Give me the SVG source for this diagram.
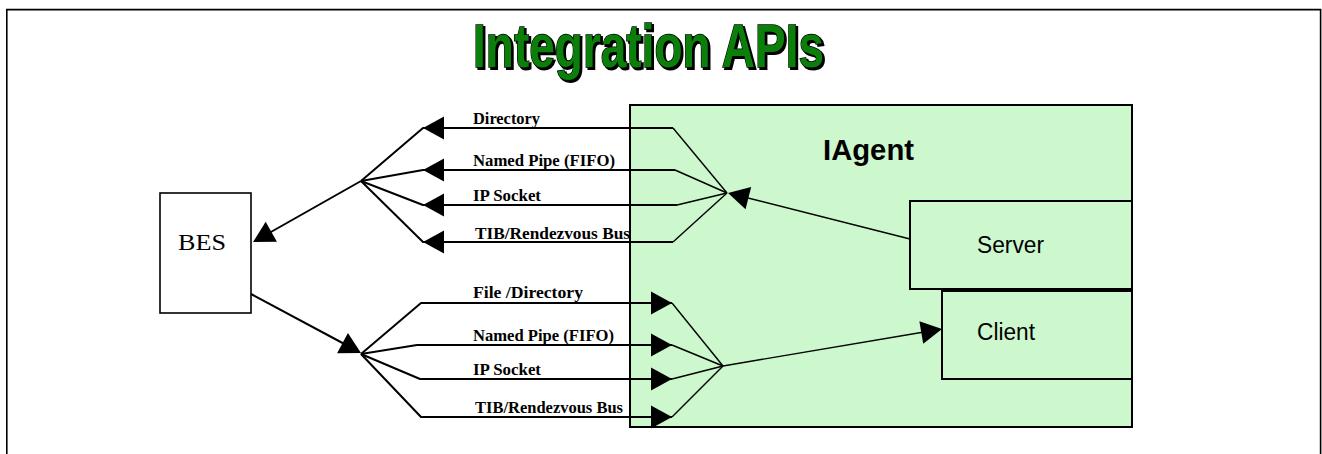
<svg xmlns="http://www.w3.org/2000/svg" width="1322" height="454" viewBox="0 0 1322 454">
<style>
.frame{fill:none;stroke:#000;stroke-width:1.6}
.box{fill:#cdf7cd;stroke:#000;stroke-width:2}
.bes{fill:#fff;stroke:#000;stroke-width:1.6}
.ln{fill:none;stroke:#000;stroke-width:2;stroke-linejoin:round}
.thin{fill:none;stroke:#000;stroke-width:1.4;stroke-linejoin:round}
.lbl{font-family:"Liberation Serif","Times New Roman",serif;font-weight:bold;font-size:16px;fill:#000}
.sans{font-family:"Liberation Sans",Arial,sans-serif;fill:#000}
.title{font-family:"Liberation Sans",Arial,sans-serif;font-weight:bold;font-size:62px}
</style>
<defs>
<path id="ah" d="M0,0 L-21,-11.5 L-21,11.5 Z" fill="#000"/>
</defs>
<rect width="1322" height="454" fill="#fff"/>
<path class="frame" d="M6.8,454 V9.6 H1320.6 V454"/>
<g id="title">
<text class="title" x="475" y="69" textLength="351" lengthAdjust="spacingAndGlyphs" fill="#000" stroke="#000" stroke-width="2">Integration APIs</text>
<text class="title" x="473" y="67" textLength="351" lengthAdjust="spacingAndGlyphs" fill="#0a800a" stroke="#000" stroke-width="1.6" paint-order="stroke">Integration APIs</text>
</g>
<g id="iagent">
<rect class="box" x="630" y="105" width="502" height="322"/>
<text class="sans" x="823" y="160" font-size="30" font-weight="bold" textLength="91" lengthAdjust="spacingAndGlyphs">IAgent</text>
</g>
<g id="server">
<rect class="box" x="910" y="201" width="222" height="88"/>
<text class="sans" x="977" y="253" font-size="23" textLength="67" lengthAdjust="spacingAndGlyphs">Server</text>
</g>
<g id="client">
<rect class="box" x="942" y="291" width="190" height="88"/>
<text class="sans" x="977" y="340" font-size="23" textLength="58" lengthAdjust="spacingAndGlyphs">Client</text>
</g>
<g id="bes">
<rect class="bes" x="160" y="193" width="91" height="120"/>
<text x="178" y="250" font-family="Liberation Serif,'Times New Roman',serif" font-size="23" textLength="48" lengthAdjust="spacingAndGlyphs">BES</text>
</g>
<g id="connectors">
<polyline class="ln" points="361,181 423,128 673,128"/>
<polyline class="ln" points="361,181 423,170 675,170"/>
<polyline class="ln" points="361,181 423,205 677,205"/>
<polyline class="ln" points="361,181 423,242 673,242"/>
<line class="ln" x1="361" y1="181" x2="255" y2="241"/>
<polyline class="thin" points="673,128 727,193"/>
<polyline class="thin" points="675,170 727,193"/>
<polyline class="thin" points="677,205 727,193"/>
<polyline class="thin" points="673,242 727,193"/>
<line class="thin" x1="910" y1="239" x2="740" y2="196"/>
<use href="#ah" transform="translate(423,128) rotate(180)"/>
<use href="#ah" transform="translate(423,170) rotate(180)"/>
<use href="#ah" transform="translate(423,205) rotate(180)"/>
<use href="#ah" transform="translate(423,242) rotate(180)"/>
<use href="#ah" transform="translate(253,242) rotate(150.7)"/>
<use href="#ah" transform="translate(728,193) rotate(194.2)"/>
<line class="ln" x1="251" y1="294" x2="350" y2="347"/>
<polyline class="ln" points="361,354 421,303 672,303"/>
<polyline class="ln" points="361,354 417,345 672,345"/>
<polyline class="ln" points="361,354 420,379 672,379"/>
<polyline class="ln" points="361,354 421,417 672,417"/>
<line class="thin" x1="672" y1="303" x2="723" y2="366"/>
<line class="thin" x1="672" y1="345" x2="723" y2="366"/>
<line class="thin" x1="672" y1="379" x2="723" y2="366"/>
<line class="thin" x1="672" y1="417" x2="723" y2="366"/>
<line class="thin" x1="723" y1="366" x2="930" y2="331"/>
<use href="#ah" transform="translate(361,353) rotate(28.2)"/>
<use href="#ah" transform="translate(672,303)"/>
<use href="#ah" transform="translate(672,345)"/>
<use href="#ah" transform="translate(672,379)"/>
<use href="#ah" transform="translate(672,417)"/>
<use href="#ah" transform="translate(942,329) rotate(-9.6)"/>
<text class="lbl" x="473" y="124" textLength="67" lengthAdjust="spacingAndGlyphs">Directory</text>
<text class="lbl" x="473" y="166" textLength="142" lengthAdjust="spacingAndGlyphs">Named Pipe (FIFO)</text>
<text class="lbl" x="473" y="201" textLength="68" lengthAdjust="spacingAndGlyphs">IP Socket</text>
<text class="lbl" x="475" y="239" textLength="155" lengthAdjust="spacingAndGlyphs">TIB/Rendezvous Bus</text>
<text class="lbl" x="473" y="298" textLength="110" lengthAdjust="spacingAndGlyphs">File /Directory</text>
<text class="lbl" x="473" y="341" textLength="141" lengthAdjust="spacingAndGlyphs">Named Pipe (FIFO)</text>
<text class="lbl" x="473" y="375" textLength="68" lengthAdjust="spacingAndGlyphs">IP Socket</text>
<text class="lbl" x="475" y="413" textLength="148" lengthAdjust="spacingAndGlyphs">TIB/Rendezvous Bus</text>
</g>
</svg>
